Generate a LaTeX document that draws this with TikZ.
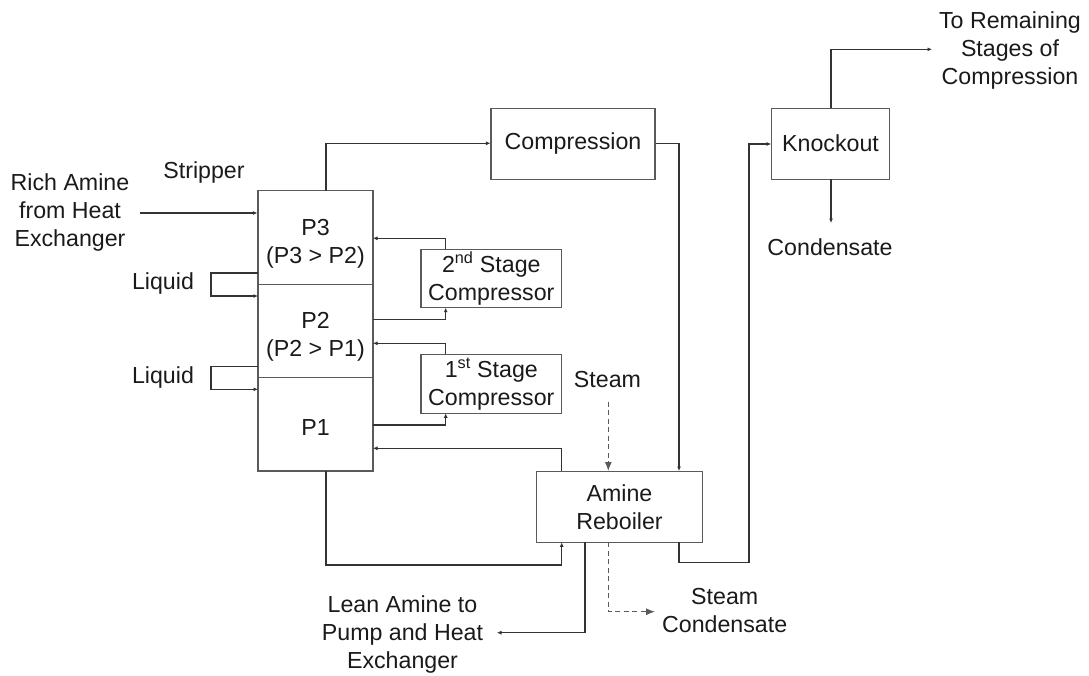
\documentclass[tikz,border=0pt]{standalone}
\usepackage{fontspec}
\setmainfont{Liberation Sans}
\usetikzlibrary{arrows.meta}
\definecolor{boxc}{HTML}{5A5A5A}
\definecolor{linec}{HTML}{333333}
\definecolor{txtc}{HTML}{1A1A1A}
\begin{document}
\begin{tikzpicture}[x=1pt,y=-1pt,
  every node/.style={font=\fontsize{23.2}{28}\selectfont, text=txtc},
  unitbox/.style={draw=boxc, line width=1.1pt, rectangle, inner sep=0pt, align=center, anchor=center},
  lbl/.style={align=center, inner sep=0pt},
  flow/.style={draw=linec, line width=1.1pt, -{Latex[length=4.5pt,width=4pt]}},
  dflow/.style={draw=boxc, line width=1.1pt, dash pattern=on 5pt off 3.5pt, -{Latex[length=9pt,width=7pt]}}]
\useasboundingbox (0,0) rectangle (1089,675);
% stripper sections
\node[unitbox, minimum width=115pt, minimum height=93.6pt] (p3) at (315.5,237.5) {};
\node[unitbox, minimum width=115pt, minimum height=93.4pt] (p2) at (315.5,331) {};
\node[unitbox, minimum width=115pt, minimum height=93.3pt] (p1) at (315.5,424.3) {};
\node[lbl] (p3t) at (315.5,244) {P3\\(P3 > P2)};
\node[lbl] (p2t) at (315.5,337) {P2\\(P2 > P1)};
\node[lbl] (p1t) at (315.5,428) {P1};
% units
\node[unitbox, minimum width=140.7pt, minimum height=58.4pt] (c2) at (491.3,278.5) {2\textsuperscript{nd} Stage\\Compressor};
\node[unitbox, minimum width=140.7pt, minimum height=59pt] (c1) at (491.3,383.8) {1\textsuperscript{st} Stage\\Compressor};
\node[unitbox, minimum width=164pt, minimum height=70.7pt] (comp) at (573,143.7) {Compression};
\node[unitbox, minimum width=117.6pt, minimum height=70.7pt] (ko) at (830.5,143.7) {Knockout};
\node[unitbox, minimum width=165.6pt, minimum height=71.3pt] (reb) at (619.5,506.7) {Amine\\Reboiler};
% labels
\node[lbl] (rich) at (70,212.5) {Rich Amine\\from Heat\\Exchanger};
\node[lbl] (strip) at (204,172) {Stripper};
\node[lbl] (liq1) at (163,283) {Liquid};
\node[lbl] (liq2) at (163,377) {Liquid};
\node[lbl] (steam) at (607.5,380) {Steam};
\node[lbl] (scond) at (724.7,611) {Steam\\Condensate};
\node[lbl] (lean) at (402.5,634) {Lean Amine to\\Pump and Heat\\Exchanger};
\node[lbl] (cond) at (830,247) {Condensate};
\node[lbl] (rem) at (1010,50) {To Remaining\\Stages of\\Compression};
% free ends
\coordinate (richs) at (140,213);
\coordinate (steams) at (608.3,401.7);
\coordinate (scondt) at (655,611.7);
\coordinate (leant) at (497,632.7);
\coordinate (condt) at (831,223);
\coordinate (remt) at (932,49.3);
% feed
\draw[flow] (richs) -- (richs -| p3.west);
% liquid loops
\draw[flow] (258,273) -- (211,273) -- (211,296) -- (258,296);
\draw[flow] (258,366.7) -- (211,366.7) -- (211,389.3) -- (258,389.3);
% compressors
\draw[flow] (445.7,249.3) -- (445.7,238.3) -- (373,238.3);
\draw[flow] (373,319.3) -- (445.7,319.3) -- (445.7,307.7);
\draw[flow] (445.7,354.3) -- (445.7,343.3) -- (373,343.3);
\draw[flow] (373,425) -- (445.7,425) -- (445.7,413.3);
% reboiler vapour back to P1
\draw[flow] (561.7,471) -- (561.7,448.3) -- (373,448.3);
% overhead to compression
\draw[flow] (326,190.7) -- (326,143.3) -- (comp.west |- 0,143.3);
% compression to reboiler
\draw[flow] (comp.east |- 0,143.3) -- (679,143.3) -- (679,471);
% stripper bottoms to reboiler
\draw[flow] (326,471) -- (326,565) -- (561.7,565) -- (561.7,542.3);
% lean amine out
\draw[flow] (585,542.3) -- (585,632.7) -- (leant);
% steam
\draw[dflow] (steams) -- (608.3,471);
\draw[dflow] (608.3,542.3) -- (608.3,611.7) -- (scondt);
% reboiler to knockout
\draw[flow] (679,542.3) -- (679,562.7) -- (749,562.7) -- (749,144) -- (ko.west |- 0,144);
% knockout outlets
\draw[flow] (831,108.3) -- (831,49.3) -- (remt);
\draw[flow] (831,179) -- (condt);
\end{tikzpicture}
\end{document}
